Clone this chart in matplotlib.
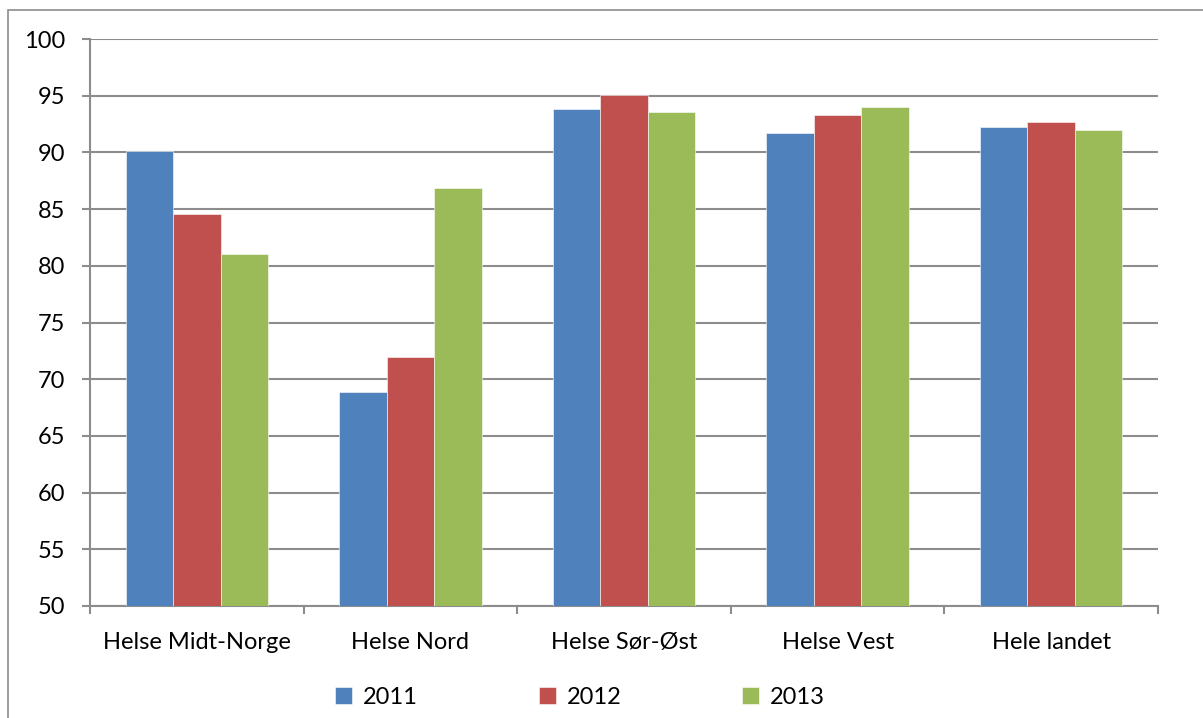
import matplotlib
matplotlib.use("Agg")
import matplotlib.pyplot as plt
import numpy as np
from matplotlib.patches import Rectangle

categories = ["Helse Midt-Norge", "Helse Nord", "Helse Sør-Øst", "Helse Vest", "Hele landet"]
years = ["2011", "2012", "2013"]
v2011 = [90.1, 68.9, 93.8, 91.7, 92.2]
v2012 = [84.6, 72.0, 95.1, 93.3, 92.7]
v2013 = [81.0, 86.9, 93.6, 94.0, 92.0]
colors = ["#4F81BD", "#C0504D", "#9BBB59"]
yticks = [50, 55, 60, 65, 70, 75, 80, 85, 90, 95, 100]

plt.rcParams['font.family'] = ['Lato', 'DejaVu Sans']

fig = plt.figure(figsize=(12.03, 7.18), dpi=100)
W, H = 1203, 718
ax = fig.add_axes([90 / W, 1 - 606 / H, (1158 - 90) / W, (606 - 39) / H])

# outer frame
fig.patches.append(Rectangle((8 / W, -0.05), 1.2, 1 - 10 / H + 0.05, transform=fig.transFigure,
                             fill=False, edgecolor="#8C8C8C", linewidth=1.2))

x = np.arange(len(categories))
bw = 1 / 4.5
for i, (vals, c, lab) in enumerate(zip([v2011, v2012, v2013], colors, years)):
    ax.bar(x + (i - 1) * bw, [v - 50 for v in vals], bw, bottom=50, color=c, label=lab,
           edgecolor="white", linewidth=0.4, zorder=3)

ax.set_xlim(-0.5, len(categories) - 0.5)
ax.set_ylim(50, 100)
ax.set_yticks(yticks)
ax.set_yticklabels([str(t) for t in yticks], fontsize=17)
ax.yaxis.grid(True, color="#8C8C8C", linewidth=1.5, zorder=0)
ax.set_axisbelow(True)

ax.set_xticks(x)
ax.set_xticklabels(categories, fontsize=17)
ax.tick_params(axis='x', length=0, pad=19)
ax.set_xticks(np.arange(-0.5, len(categories)), minor=True)
ax.tick_params(axis='x', which='minor', length=6, color="#8C8C8C", width=1.5)
ax.tick_params(axis='y', length=6, color="#8C8C8C", width=1.5, pad=12)

for s in ["top", "right"]:
    ax.spines[s].set_visible(False)
for s in ["left", "bottom"]:
    ax.spines[s].set_color("#8C8C8C")
    ax.spines[s].set_linewidth(1.5)

leg = fig.legend(loc="center", bbox_to_anchor=(580 / W, 1 - 697 / H), ncol=3, frameon=False,
                 fontsize=17, handlelength=0.72, handleheight=0.72, handletextpad=0.47,
                 columnspacing=5.1)

fig.savefig("out.png", dpi=100)
